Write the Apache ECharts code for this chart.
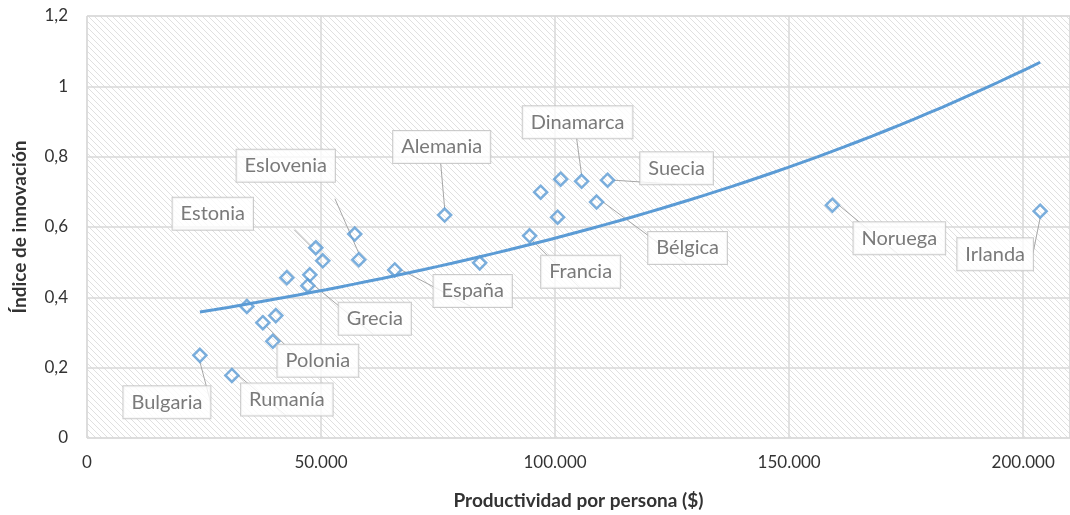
<!DOCTYPE html>
<html lang="es">
<head>
<meta charset="UTF-8">
<title>Innovación vs productividad</title>
<script src="https://cdn.jsdelivr.net/npm/echarts@6/dist/echarts.min.js"></script>
<style>
html, body {margin: 0; padding: 0; background: #fff;}
#main {width: 1070px; height: 515px;}
</style>
</head>
<body>
<div id="main"></div>
<script>
// data
var paises = ['Bulgaria', 'Rumanía', '', 'Polonia', '', '', '', 'Grecia', '', 'Estonia', '', '',
    'Eslovenia', 'España', 'Alemania', '', 'Francia', '', '', '', 'Dinamarca', 'Bélgica', 'Suecia',
    'Noruega', 'Irlanda'];
var productividad = [24120, 30950, 34150, 37570, 40340, 39700, 42690, 47170, 47600, 48880, 50370, 57200,
    58060, 65740, 76410, 83890, 94560, 96910, 100530, 101180, 105660, 108860, 111210,
    159230, 203630];
var innovacion = [0.235, 0.178, 0.374, 0.328, 0.348, 0.275, 0.456, 0.433, 0.464, 0.541, 0.504, 0.580,
    0.507, 0.478, 0.634, 0.498, 0.575, 0.699, 0.628, 0.736, 0.730, 0.671, 0.733,
    0.662, 0.645];
var yTicks = [0, 0.2, 0.4, 0.6, 0.8, 1, 1.2];

// where each callout sits, relative to its point (px)
var calloutOffset = {
    'Bulgaria': [-33, 47], 'Rumanía': [55, 24], 'Polonia': [55, 38], 'Grecia': [67, 33],
    'Estonia': [-103, -34], 'Eslovenia': [-73, -94], 'España': [78, 21], 'Alemania': [-3, -68],
    'Francia': [51, 36], 'Dinamarca': [-4, -59], 'Suecia': [69, -12], 'Bélgica': [91, 46],
    'Noruega': [67, 33], 'Irlanda': [-45, 43]
};

// exponential trendline (least squares on ln y), like Excel does
function trendExp(xs, ys) {
    var n = xs.length, sx = 0, sy = 0, sxx = 0, sxy = 0;
    for (var i = 0; i < n; i++) {
        var ly = Math.log(ys[i]);
        sx += xs[i]; sy += ly; sxx += xs[i] * xs[i]; sxy += xs[i] * ly;
    }
    var k = (n * sxy - sx * sy) / (n * sxx - sx * sx);
    var a = Math.exp((sy - k * sx) / n);
    var lo = Math.min.apply(null, xs), hi = Math.max.apply(null, xs);
    var pts = [];
    for (var j = 0; j <= 60; j++) {
        var x = lo + (hi - lo) * j / 60;
        pts.push([x, a * Math.exp(k * x)]);
    }
    return pts;
}

// hatch fill for the plot area
var hatch = document.createElement('canvas');
hatch.width = 6; hatch.height = 6;
var hc = hatch.getContext('2d');
hc.fillStyle = '#e0e0e0';
for (var p = 0; p < 6; p++) hc.fillRect(p, p, 1, 1);

var puntos = paises.map(function (name, i) {
    var item = {name: name, value: [productividad[i], innovacion[i]]};
    if (name && calloutOffset[name]) {
        item.label = {show: true, offset: calloutOffset[name]};
    }
    return item;
});

var chart = echarts.init(document.getElementById('main'));
var font = 'Lato, "Open Sans", sans-serif';

chart.setOption({
    animation: false,
    textStyle: {fontFamily: font},
    grid: {
        left: 87, right: 0, top: 16, bottom: 74,
        show: true,
        borderWidth: 1,
        borderColor: '#d9d9d9',
        backgroundColor: {image: hatch, repeat: 'repeat'}
    },
    xAxis: {
        type: 'value',
        min: 0, max: 210000, interval: 50000,
        name: 'Productividad por persona ($)',
        nameLocation: 'middle',
        nameGap: 53,
        nameTextStyle: {fontSize: 19, fontWeight: 'bold', color: '#333', fontFamily: font},
        axisLine: {show: false},
        axisTick: {show: false},
        axisLabel: {
            fontSize: 17, color: '#333', margin: 16, showMaxLabel: false,
            formatter: function (v) {
                return v === 0 ? '0' : String(v).replace(/\B(?=(\d{3})+(?!\d))/g, '.');
            }
        },
        splitLine: {lineStyle: {color: '#d9d9d9', width: 1.5}}
    },
    yAxis: {
        type: 'value',
        min: yTicks[0], max: yTicks[yTicks.length - 1], interval: 0.2,
        name: 'Índice de innovación',
        nameLocation: 'middle',
        nameGap: 58,
        nameTextStyle: {fontSize: 19, fontWeight: 'bold', color: '#333', fontFamily: font},
        axisLine: {show: false},
        axisTick: {show: false},
        axisLabel: {
            fontSize: 17, color: '#333', margin: 19,
            formatter: function (v) {
                return String(Math.round(v * 10) / 10).replace('.', ',');
            }
        },
        splitLine: {lineStyle: {color: '#d9d9d9', width: 1.5}}
    },
    series: [{
        type: 'scatter',
        data: puntos,
        symbol: 'diamond',
        symbolSize: [13, 13],
        itemStyle: {color: 'rgba(255,255,255,0)', borderColor: '#5b9bd5', borderWidth: 2.5},
        label: {
            show: false,
            position: 'inside',
            formatter: '{b}',
            fontSize: 20,
            color: '#595959',
            fontFamily: font,
            backgroundColor: '#fff',
            borderColor: '#bfbfbf',
            borderWidth: 1,
            padding: [6, 8, 6, 8]
        },
        labelLine: {show: true, lineStyle: {color: '#a6a6a6', width: 1}},
        z: 3
    }, {
        type: 'line',
        data: trendExp(productividad, innovacion),
        showSymbol: false,
        smooth: false,
        lineStyle: {color: '#5b9bd5', width: 3},
        z: 4
    }]
});
</script>
</body>
</html>
